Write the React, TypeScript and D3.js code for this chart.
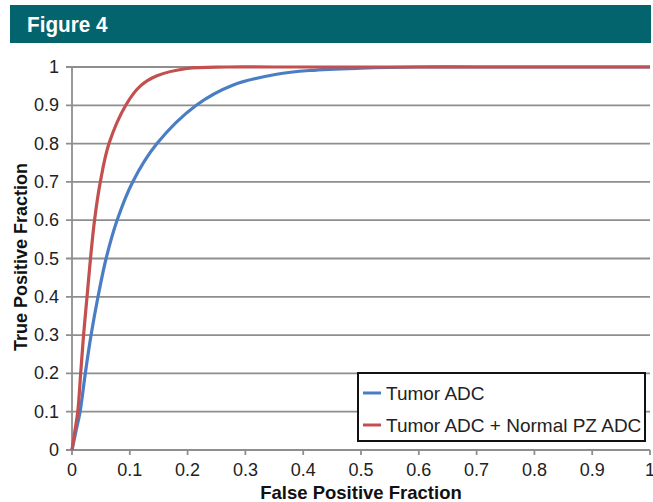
import React from "react";
import * as d3 from "d3";

const ticks = [0, 0.1, 0.2, 0.3, 0.4, 0.5, 0.6, 0.7, 0.8, 0.9, 1];
const tickLabels = ["0", "0.1", "0.2", "0.3", "0.4", "0.5", "0.6", "0.7", "0.8", "0.9", "1"];

const blueX = [0, 0.007, 0.014, 0.023, 0.033, 0.045, 0.059, 0.078, 0.105, 0.147, 0.215, 0.279, 0.354, 0.412, 0.5, 0.6, 0.7, 1];
const blueY = [0, 0.05, 0.1, 0.2, 0.3, 0.4, 0.5, 0.6, 0.7, 0.8, 0.9, 0.953, 0.981, 0.991, 0.997, 1, 1, 1];

const redX = [0, 0.005, 0.01, 0.015, 0.02, 0.026, 0.032, 0.039, 0.049, 0.064, 0.093, 0.118, 0.147, 0.199, 0.268, 0.35, 1];
const redY = [0, 0.05, 0.1, 0.2, 0.3, 0.4, 0.5, 0.6, 0.7, 0.8, 0.9, 0.95, 0.977, 0.996, 1, 1, 1];

const seriesNames = ["Tumor ADC", "Tumor ADC + Normal PZ ADC"];
const seriesColors = ["#4a7ec4", "#c3504e"];

export default function App() {
  const W = 653, H = 502;
  const x = d3.scaleLinear().domain([0, 1]).range([72, 650]);
  const y = d3.scaleLinear().domain([0, 1]).range([450, 67]);
  const line = d3
    .line<[number, number]>()
    .x((d) => x(d[0]))
    .y((d) => y(d[1]))
    .curve(d3.curveCatmullRom.alpha(0.5));
  const blue = blueX.map((v, i) => [v, blueY[i]] as [number, number]);
  const red = redX.map((v, i) => [v, redY[i]] as [number, number]);
  const font = "'Liberation Sans', Arial, Helvetica, sans-serif";
  return (
    <svg width={W} height={H} style={{ position: "absolute", left: 0, top: 0 }} fontFamily={font}>
      <rect x={0} y={0} width={W} height={H} fill="#fff" />
      <rect x={10} y={5} width={641} height={38} fill="#03646e" />
      <text transform="translate(27,32) scale(0.92,1)" fill="#fff" fontSize={22.5} fontWeight="bold">
        Figure 4
      </text>
      {ticks.map((t) => (
        <line key={"g" + t} x1={66} x2={650} y1={y(t)} y2={y(t)} stroke="#8e8e8e" strokeWidth={1.8} />
      ))}
      <line x1={x(0)} x2={x(0)} y1={y(0)} y2={y(1)} stroke="#8e8e8e" strokeWidth={1.8} />
      {ticks.map((t) => (
        <line key={"xt" + t} x1={x(t)} x2={x(t)} y1={y(0)} y2={y(0) + 5} stroke="#8e8e8e" strokeWidth={1.8} />
      ))}
      {ticks.map((t, i) => (
        <text key={"yl" + t} x={59} y={y(t) + 6} textAnchor="end" fontSize={18} fill="#222">
          {tickLabels[i]}
        </text>
      ))}
      {ticks.map((t, i) => (
        <text key={"xl" + t} x={x(t)} y={476} textAnchor="middle" fontSize={18} fill="#222">
          {tickLabels[i]}
        </text>
      ))}
      <text x={361} y={499} textAnchor="middle" fontSize={18.5} fontWeight="bold" fill="#111">
        False Positive Fraction
      </text>
      <text transform={`translate(27,257) rotate(-90)`} textAnchor="middle" fontSize={18} fontWeight="bold" fill="#111">
        True Positive Fraction
      </text>
      <path d={line(blue) || ""} fill="none" stroke={seriesColors[0]} strokeWidth={3.2} />
      <path d={line(red) || ""} fill="none" stroke={seriesColors[1]} strokeWidth={3.2} />
      <rect x={358} y={373} width={287} height={68} fill="#fff" stroke="#111" strokeWidth={2} />
      {seriesNames.map((n, i) => (
        <g key={n}>
          <line x1={363} x2={381} y1={393 + i * 32} y2={393 + i * 32} stroke={seriesColors[i]} strokeWidth={3} />
          <text x={386} y={400 + i * 32} fontSize={19} fill="#222">
            {n}
          </text>
        </g>
      ))}
    </svg>
  );
}
